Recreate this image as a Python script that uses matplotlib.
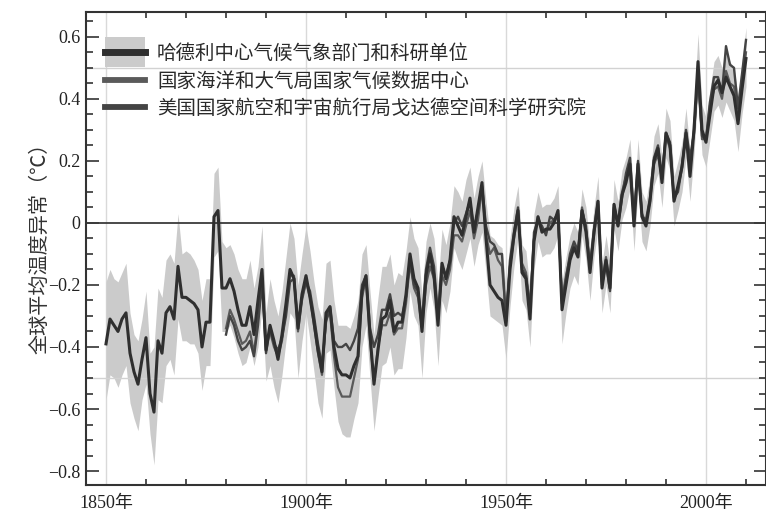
import numpy as np
import matplotlib
matplotlib.use("Agg")
import matplotlib.pyplot as plt
from matplotlib.patches import Rectangle
from matplotlib.lines import Line2D
from matplotlib.legend_handler import HandlerPatch, HandlerTuple
from matplotlib.ticker import MultipleLocator, FixedLocator, FuncFormatter

plt.rcParams['font.family'] = ['Liberation Serif', 'Noto Sans CJK SC', 'DejaVu Sans']

years_had = list(range(1850, 2011))
years_us = list(range(1880, 2011))

hadcrut = [
    -0.39, -0.31, -0.33, -0.35, -0.31, -0.29, -0.42, -0.48, -0.52, -0.44,
    -0.37, -0.55, -0.61, -0.38, -0.42, -0.29, -0.27, -0.31, -0.14, -0.24,
    -0.24, -0.25, -0.26, -0.28, -0.40, -0.32, -0.32, 0.02, 0.04, -0.21,
    -0.21, -0.18, -0.22, -0.28, -0.33, -0.33, -0.27, -0.36, -0.25, -0.15,
    -0.41, -0.33, -0.38, -0.44, -0.36, -0.26, -0.15, -0.18, -0.34, -0.23,
    -0.17, -0.24, -0.32, -0.41, -0.48, -0.29, -0.27, -0.40, -0.47, -0.49,
    -0.49, -0.50, -0.46, -0.43, -0.22, -0.17, -0.36, -0.52, -0.41, -0.31,
    -0.30, -0.25, -0.35, -0.32, -0.32, -0.23, -0.10, -0.18, -0.21, -0.35,
    -0.17, -0.10, -0.17, -0.33, -0.13, -0.18, -0.12, 0.02, -0.01, -0.04,
    0.02, 0.08, -0.03, 0.05, 0.13, -0.05, -0.20, -0.22, -0.24, -0.25,
    -0.33, -0.15, -0.04, 0.04, -0.16, -0.18, -0.31, -0.06, 0.02, -0.03,
    -0.02, -0.02, 0.00, 0.04, -0.28, -0.20, -0.12, -0.08, -0.11, 0.04,
    -0.03, -0.16, -0.03, 0.07, -0.21, -0.12, -0.21, 0.06, -0.01, 0.09,
    0.13, 0.19, -0.01, 0.19, 0.02, -0.01, 0.07, 0.20, 0.24, 0.13,
    0.29, 0.25, 0.07, 0.12, 0.18, 0.29, 0.15, 0.30, 0.52, 0.30,
    0.26, 0.35, 0.44, 0.46, 0.42, 0.47, 0.44, 0.41, 0.32, 0.43,
    0.53,
]

had_upper = [
    -0.19, -0.15, -0.18, -0.19, -0.16, -0.13, -0.29, -0.36, -0.38, -0.31,
    -0.22, -0.42, -0.40, -0.21, -0.24, -0.12, -0.10, -0.13, 0.03, -0.10,
    -0.09, -0.10, -0.12, -0.15, -0.25, -0.18, -0.18, 0.16, 0.18, -0.06,
    -0.08, -0.07, -0.10, -0.15, -0.18, -0.18, -0.12, -0.21, -0.14, -0.01,
    -0.29, -0.18, -0.25, -0.30, -0.22, -0.11, 0.00, -0.05, -0.20, -0.10,
    -0.01, -0.09, -0.19, -0.27, -0.31, -0.13, -0.12, -0.25, -0.33, -0.33,
    -0.33, -0.34, -0.30, -0.25, -0.10, -0.07, -0.22, -0.36, -0.24, -0.14,
    -0.14, -0.10, -0.20, -0.16, -0.17, -0.09, 0.02, -0.05, -0.08, -0.23,
    -0.06, 0.00, -0.05, -0.20, -0.02, -0.07, 0.00, 0.12, 0.10, 0.07,
    0.14, 0.18, 0.08, 0.15, 0.20, 0.07, -0.04, -0.05, -0.07, -0.08,
    -0.21, -0.05, 0.05, 0.12, -0.07, -0.09, -0.22, 0.03, 0.10, 0.05,
    0.06, 0.06, 0.08, 0.12, -0.19, -0.11, -0.04, 0.00, -0.03, 0.11,
    0.05, -0.08, 0.05, 0.15, -0.13, -0.04, -0.13, 0.14, 0.07, 0.17,
    0.21, 0.27, 0.07, 0.27, 0.10, 0.07, 0.15, 0.28, 0.32, 0.21,
    0.37, 0.33, 0.15, 0.20, 0.26, 0.37, 0.23, 0.38, 0.61, 0.38,
    0.34, 0.43, 0.52, 0.54, 0.50, 0.56, 0.52, 0.50, 0.41, 0.52,
    0.63,
]

had_lower = [
    -0.57, -0.49, -0.50, -0.53, -0.49, -0.46, -0.58, -0.63, -0.67, -0.57,
    -0.52, -0.68, -0.78, -0.57, -0.58, -0.46, -0.44, -0.49, -0.31, -0.38,
    -0.38, -0.39, -0.39, -0.42, -0.54, -0.46, -0.46, -0.11, -0.09, -0.35,
    -0.35, -0.33, -0.37, -0.42, -0.46, -0.45, -0.40, -0.46, -0.40, -0.27,
    -0.51, -0.46, -0.53, -0.58, -0.49, -0.38, -0.29, -0.31, -0.50, -0.38,
    -0.29, -0.38, -0.48, -0.58, -0.63, -0.42, -0.41, -0.53, -0.64, -0.68,
    -0.69, -0.69, -0.63, -0.58, -0.40, -0.33, -0.50, -0.67, -0.56, -0.46,
    -0.45, -0.40, -0.49, -0.47, -0.47, -0.37, -0.22, -0.30, -0.33, -0.50,
    -0.29, -0.21, -0.28, -0.46, -0.25, -0.29, -0.22, -0.08, -0.12, -0.15,
    -0.10, -0.05, -0.14, -0.07, -0.03, -0.16, -0.30, -0.31, -0.32, -0.33,
    -0.44, -0.27, -0.14, -0.05, -0.25, -0.28, -0.40, -0.15, -0.06, -0.11,
    -0.10, -0.10, -0.08, -0.04, -0.39, -0.29, -0.21, -0.17, -0.20, -0.04,
    -0.12, -0.25, -0.11, -0.02, -0.29, -0.20, -0.29, -0.02, -0.09, 0.01,
    0.05, 0.11, -0.09, 0.11, -0.06, -0.09, -0.01, 0.12, 0.16, 0.05,
    0.21, 0.17, -0.01, 0.04, 0.10, 0.21, 0.07, 0.22, 0.43, 0.22,
    0.18, 0.27, 0.36, 0.38, 0.34, 0.39, 0.36, 0.33, 0.23, 0.35,
    0.44,
]

noaa = [
    -0.34, -0.28, -0.31, -0.35, -0.39, -0.38, -0.35, -0.42, -0.31, -0.17,
    -0.40, -0.35, -0.40, -0.43, -0.38, -0.28, -0.17, -0.17, -0.35, -0.25,
    -0.19, -0.24, -0.33, -0.42, -0.49, -0.31, -0.29, -0.43, -0.53, -0.56,
    -0.56, -0.56, -0.50, -0.44, -0.24, -0.18, -0.38, -0.51, -0.40, -0.33,
    -0.33, -0.29, -0.36, -0.34, -0.34, -0.26, -0.13, -0.21, -0.24, -0.34,
    -0.20, -0.14, -0.18, -0.31, -0.17, -0.20, -0.15, -0.04, -0.04, -0.06,
    -0.01, 0.04, -0.05, 0.01, 0.11, -0.04, -0.10, -0.08, -0.12, -0.14,
    -0.30, -0.14, -0.05, 0.03, -0.13, -0.16, -0.27, -0.05, 0.02, -0.02,
    -0.03, 0.00, 0.01, 0.03, -0.25, -0.17, -0.11, -0.07, -0.10, 0.05,
    -0.02, -0.13, -0.04, 0.06, -0.19, -0.11, -0.20, 0.06, 0.00, 0.10,
    0.15, 0.17, 0.02, 0.18, 0.03, 0.00, 0.07, 0.19, 0.22, 0.14,
    0.28, 0.24, 0.08, 0.11, 0.19, 0.28, 0.17, 0.30, 0.47, 0.27,
    0.27, 0.38, 0.43, 0.44, 0.40, 0.49, 0.45, 0.44, 0.35, 0.45,
    0.55,
]

nasa = [
    -0.36, -0.30, -0.33, -0.38, -0.41, -0.40, -0.38, -0.43, -0.33, -0.19,
    -0.42, -0.34, -0.39, -0.41, -0.37, -0.30, -0.19, -0.18, -0.33, -0.24,
    -0.19, -0.22, -0.30, -0.39, -0.46, -0.32, -0.27, -0.38, -0.40, -0.40,
    -0.39, -0.41, -0.38, -0.34, -0.20, -0.17, -0.34, -0.40, -0.36, -0.28,
    -0.28, -0.23, -0.30, -0.29, -0.30, -0.24, -0.12, -0.20, -0.22, -0.32,
    -0.15, -0.08, -0.14, -0.30, -0.14, -0.17, -0.12, 0.00, 0.02, -0.01,
    0.03, 0.07, -0.02, 0.04, 0.12, -0.01, -0.06, -0.07, -0.10, -0.10,
    -0.32, -0.12, -0.03, 0.05, -0.15, -0.17, -0.29, -0.03, 0.01, -0.01,
    -0.04, 0.02, 0.01, 0.03, -0.26, -0.18, -0.10, -0.06, -0.09, 0.04,
    -0.01, -0.15, -0.02, 0.07, -0.20, -0.13, -0.22, 0.05, -0.01, 0.08,
    0.16, 0.21, 0.01, 0.20, 0.02, 0.01, 0.08, 0.21, 0.25, 0.15,
    0.29, 0.26, 0.08, 0.10, 0.18, 0.30, 0.21, 0.29, 0.48, 0.28,
    0.27, 0.39, 0.47, 0.47, 0.42, 0.57, 0.51, 0.50, 0.37, 0.48,
    0.59,
]

labels = [
    "哈德利中心气候气象部门和科研单位",
    "国家海洋和大气局国家气候数据中心",
    "美国国家航空和宇宙航行局戈达德空间科学研究院",
]
y_label = "全球平均温度异常（℃）"
x_major = [1850, 1900, 1950, 2000]
x_major_labels = ["1850年", "1900年", "1950年", "2000年"]

W, H = 766, 512
fig = plt.figure(figsize=(W / 100, H / 100), dpi=100)
ax = fig.add_axes([86 / W, (H - 485) / H, (766 - 86) / W, (485 - 12) / H])

band_color = "#cbcbcb"
ax.fill_between(years_had, had_lower, had_upper, color=band_color, lw=0, zorder=1)

for xv in x_major:
    ax.axvline(xv, color="#d9d9d9", lw=1.0, zorder=0.5)
for yv in (0.5, -0.5):
    ax.axhline(yv, color="#d2d2d2", lw=1.0, zorder=1.5)
ax.axhline(0, color="#3a3a3a", lw=1.3, zorder=2)

l_noaa, = ax.plot(years_us, noaa, color="#5a5a5a", lw=1.6, zorder=3)
l_nasa, = ax.plot(years_us, nasa, color="#444444", lw=1.7, zorder=3.5)
l_had, = ax.plot(years_had, hadcrut, color="#2f2f2f", lw=2.2, zorder=4)

ax.set_xlim(1845, 2015)
ax.set_ylim(-0.845, 0.68)

ax.xaxis.set_major_locator(FixedLocator(x_major))
ax.set_xticklabels(x_major_labels)
ax.xaxis.set_minor_locator(FixedLocator([y for y in range(1860, 2011, 10) if y not in x_major]))
ax.yaxis.set_major_locator(MultipleLocator(0.2))
ax.yaxis.set_minor_locator(MultipleLocator(0.05))

def yfmt(v, pos):
    s = "%g" % round(v, 2)
    return s.replace("-", "\u2212")
ax.yaxis.set_major_formatter(FuncFormatter(yfmt))

ax.tick_params(axis="x", which="major", length=0, pad=7, labelsize=13, top=True, bottom=True)
ax.tick_params(axis="x", which="minor", direction="in", length=4, width=1.2, top=True, bottom=True, color="#333333")
ax.tick_params(axis="y", which="major", direction="in", length=9, width=1.2, left=True, right=True, pad=4, labelsize=13, color="#333333")
ax.tick_params(axis="y", which="minor", direction="in", length=5, width=1.2, left=True, right=True, color="#333333")
for lab in ax.get_xticklabels() + ax.get_yticklabels():
    lab.set_color("#222222")

for s in ax.spines.values():
    s.set_color("#333333")
    s.set_linewidth(1.5)

fig.text(40 / W, 1 - 243 / H, y_label, rotation=90, ha="center", va="center",
         fontsize=14.5, family=["Noto Sans CJK SC"], color="#333333")


class TallPatch(HandlerPatch):
    def create_artists(self, legend, orig_handle, xdescent, ydescent, width, height, fontsize, trans):
        h = 22.0
        p = Rectangle((-xdescent, -ydescent + height / 2 - h / 2), width, h,
                      facecolor=orig_handle.get_facecolor(), edgecolor="none", transform=trans)
        return [p]

band_handle = Rectangle((0, 0), 1, 1, facecolor=band_color)
h_had = Line2D([], [], color="#2f2f2f", lw=5)
h_noaa = Line2D([], [], color="#5a5a5a", lw=4.2)
h_nasa = Line2D([], [], color="#444444", lw=4.2)

leg = ax.legend([(band_handle, h_had), h_noaa, h_nasa], labels,
                handler_map={Rectangle: TallPatch(), tuple: HandlerTuple(ndivide=1)},
                loc="upper left", bbox_to_anchor=(105 / W, 1 - 43 / H), bbox_transform=fig.transFigure,
                frameon=False, borderpad=0, borderaxespad=0, handlelength=2.05, handletextpad=0.62,
                labelspacing=0.34, prop={"family": ["Noto Sans CJK SC"], "size": 14})
for t in leg.get_texts():
    t.set_color("#2a2a2a")

fig.savefig("out.png", dpi=100)
